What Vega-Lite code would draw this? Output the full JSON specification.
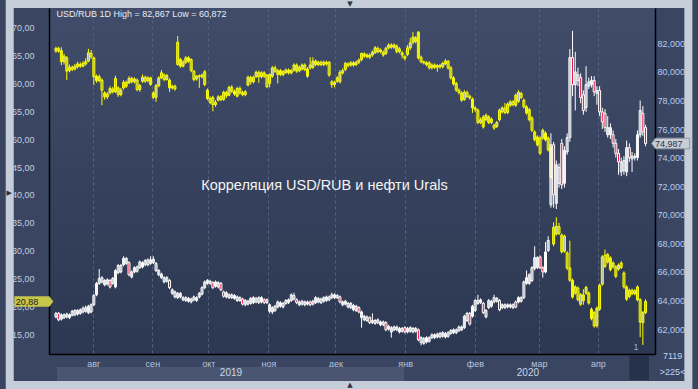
{
"$schema": "https://vega.github.io/schema/vega-lite/v6.json",
"width": 606, "height": 346,
"autosize": {"type": "none"},
"padding": {"left": 49, "top": 8, "right": 43, "bottom": 35},
"background": "#3a4661",
"config": {
  "view": {"stroke": null, "fill": {"gradient": "linear", "x1": 0, "y1": 0, "x2": 0, "y2": 1, "stops": [{"offset": 0, "color": "#404c69"}, {"offset": 1, "color": "#2c3751"}]}},
  "font": "Liberation Sans",
  "axis": {"labelOverlap": false, "labelFlush": false, "labelBound": false, "ticks": false, "domainColor": "#000000", "domainWidth": 1.5,
           "labelFont": "Liberation Sans", "labelFontSize": 9, "gridColor": "#56627d", "gridDash": [3, 3], "gridWidth": 1},
  "axisLeft": {"grid": false, "labelPadding": 15, "labelColor": "#c4cee0"},
  "axisRight": {"grid": true, "labelPadding": 2, "labelColor": "#b5cdf0"},
  "axisBottom": {"grid": true, "labelPadding": 5, "labelColor": "#b4c4dc"}
},
"datasets": {
"oil": [
{"i":0,"o":65.8,"h":66.6,"l":65.5,"c":66.3},{"i":1,"o":66.3,"h":66.6,"l":65.5,"c":65.8},{"i":2,"o":65.9,"h":66.5,"l":63.3,"c":63.9},{"i":3,"o":63.9,"h":65.3,"l":63.4,"c":64.9},{"i":4,"o":64.6,"h":64.9,"l":60.6,"c":62.2},
{"i":5,"o":62.3,"h":63.4,"l":62.0,"c":62.9},{"i":6,"o":62.9,"h":63.2,"l":62.2,"c":62.5},{"i":7,"o":62.6,"h":63.5,"l":62.3,"c":63.1},{"i":8,"o":63.0,"h":63.9,"l":62.7,"c":63.5},{"i":9,"o":63.4,"h":63.8,"l":62.8,"c":63.1},
{"i":10,"o":63.1,"h":64.0,"l":62.9,"c":63.6},{"i":11,"o":63.5,"h":64.5,"l":63.2,"c":63.9},{"i":12,"o":64.0,"h":66.2,"l":63.8,"c":65.5},{"i":13,"o":65.4,"h":66.0,"l":64.4,"c":64.8},{"i":14,"o":64.6,"h":64.8,"l":59.7,"c":61.2},
{"i":15,"o":61.3,"h":61.6,"l":60.1,"c":60.5},{"i":16,"o":60.5,"h":61.6,"l":60.2,"c":61.2},{"i":17,"o":60.6,"h":60.9,"l":56.1,"c":58.8},{"i":18,"o":58.3,"h":58.6,"l":57.1,"c":57.6},{"i":19,"o":57.6,"h":58.5,"l":57.2,"c":58.1},
{"i":20,"o":58.3,"h":59.5,"l":58.0,"c":59.1},{"i":21,"o":59.0,"h":59.4,"l":58.2,"c":58.5},{"i":22,"o":58.5,"h":61.4,"l":58.3,"c":60.9},{"i":23,"o":59.2,"h":59.5,"l":57.6,"c":58.0},{"i":24,"o":58.0,"h":59.2,"l":57.7,"c":58.8},
{"i":25,"o":59.2,"h":60.6,"l":58.9,"c":60.2},{"i":26,"o":60.2,"h":60.5,"l":59.2,"c":59.5},{"i":27,"o":60.1,"h":61.3,"l":59.9,"c":60.9},{"i":28,"o":60.9,"h":61.2,"l":60.0,"c":60.3},{"i":29,"o":60.3,"h":61.1,"l":60.0,"c":60.8},
{"i":30,"o":60.6,"h":60.9,"l":58.6,"c":58.9},{"i":31,"o":58.9,"h":59.9,"l":58.5,"c":59.6},{"i":32,"o":60.4,"h":61.6,"l":60.1,"c":61.1},{"i":33,"o":61.1,"h":61.4,"l":60.1,"c":60.4},{"i":34,"o":60.5,"h":61.3,"l":60.2,"c":61.0},
{"i":35,"o":61.0,"h":61.2,"l":59.6,"c":59.8},{"i":36,"o":58.3,"h":58.6,"l":57.2,"c":57.5},{"i":37,"o":57.5,"h":59.9,"l":56.7,"c":59.6},{"i":38,"o":59.6,"h":61.3,"l":59.3,"c":61.0},{"i":39,"o":61.0,"h":62.4,"l":60.8,"c":61.9},
{"i":40,"o":61.5,"h":61.8,"l":60.4,"c":60.7},{"i":41,"o":60.7,"h":61.7,"l":60.5,"c":61.4},{"i":42,"o":60.6,"h":60.9,"l":58.5,"c":59.2},{"i":43,"o":59.2,"h":59.8,"l":58.9,"c":59.5},{"i":44,"o":59.5,"h":59.8,"l":58.7,"c":59.0},
{"i":45,"o":63.4,"h":68.5,"l":63.2,"c":67.4},{"i":46,"o":64.3,"h":64.6,"l":62.8,"c":63.1},{"i":47,"o":63.1,"h":64.2,"l":62.9,"c":63.8},{"i":48,"o":63.8,"h":64.9,"l":63.5,"c":64.6},{"i":49,"o":64.6,"h":64.9,"l":63.7,"c":64.0},
{"i":50,"o":64.3,"h":64.5,"l":62.0,"c":62.3},{"i":51,"o":62.2,"h":62.4,"l":60.4,"c":60.7},{"i":52,"o":60.8,"h":61.5,"l":60.5,"c":61.3},{"i":53,"o":61.4,"h":61.6,"l":59.2,"c":61.2},{"i":54,"o":61.2,"h":61.8,"l":60.9,"c":61.5},
{"i":55,"o":62.1,"h":62.4,"l":59.5,"c":59.8},{"i":56,"o":58.8,"h":59.1,"l":57.0,"c":57.3},{"i":57,"o":57.3,"h":57.7,"l":56.3,"c":56.6},{"i":58,"o":57.5,"h":57.8,"l":55.0,"c":56.2},{"i":59,"o":56.2,"h":57.0,"l":55.8,"c":56.6},
{"i":60,"o":57.0,"h":57.9,"l":56.8,"c":57.6},{"i":61,"o":57.6,"h":57.9,"l":56.8,"c":57.1},{"i":62,"o":57.1,"h":58.7,"l":56.9,"c":58.4},{"i":63,"o":58.4,"h":58.7,"l":57.4,"c":57.8},{"i":64,"o":57.9,"h":59.6,"l":57.7,"c":59.3},
{"i":65,"o":59.3,"h":59.7,"l":58.3,"c":58.6},{"i":66,"o":58.6,"h":58.9,"l":57.8,"c":58.1},{"i":67,"o":57.7,"h":59.4,"l":57.5,"c":59.1},{"i":68,"o":59.1,"h":59.5,"l":58.0,"c":58.3},{"i":69,"o":58.4,"h":58.7,"l":57.7,"c":58.0},
{"i":70,"o":58.0,"h":58.8,"l":57.7,"c":58.5},{"i":71,"o":59.7,"h":61.4,"l":59.5,"c":61.1},{"i":72,"o":61.1,"h":61.4,"l":59.8,"c":60.3},{"i":73,"o":60.3,"h":61.4,"l":60.0,"c":61.1},{"i":74,"o":61.2,"h":62.3,"l":61.0,"c":62.0},
{"i":75,"o":62.0,"h":62.3,"l":60.1,"c":61.2},{"i":76,"o":61.2,"h":62.2,"l":60.9,"c":61.9},{"i":77,"o":61.9,"h":62.2,"l":61.0,"c":61.3},{"i":78,"o":61.5,"h":61.7,"l":59.2,"c":59.4},{"i":79,"o":60.0,"h":61.8,"l":59.3,"c":61.6},
{"i":80,"o":61.3,"h":63.1,"l":61.0,"c":62.8},{"i":81,"o":62.8,"h":63.2,"l":61.9,"c":62.2},{"i":82,"o":61.6,"h":62.6,"l":60.0,"c":62.3},{"i":83,"o":62.3,"h":62.6,"l":61.3,"c":61.6},{"i":84,"o":61.6,"h":62.4,"l":61.3,"c":62.1},
{"i":85,"o":62.0,"h":62.7,"l":61.7,"c":62.4},{"i":86,"o":62.4,"h":62.7,"l":61.6,"c":61.9},{"i":87,"o":61.9,"h":62.6,"l":61.6,"c":62.3},{"i":88,"o":62.4,"h":63.6,"l":62.1,"c":63.3},{"i":89,"o":63.3,"h":63.6,"l":61.9,"c":62.2},
{"i":90,"o":62.3,"h":63.2,"l":62.0,"c":62.9},{"i":91,"o":62.6,"h":63.6,"l":62.3,"c":63.3},{"i":92,"o":63.3,"h":63.6,"l":62.2,"c":62.5},{"i":93,"o":62.6,"h":62.9,"l":61.0,"c":61.3},{"i":94,"o":62.8,"h":64.7,"l":62.5,"c":63.3},
{"i":95,"o":62.9,"h":64.7,"l":62.6,"c":64.0},{"i":96,"o":64.0,"h":64.3,"l":63.1,"c":63.4},{"i":97,"o":63.4,"h":64.1,"l":63.1,"c":63.8},{"i":98,"o":63.8,"h":64.1,"l":63.1,"c":63.4},{"i":99,"o":63.4,"h":64.1,"l":63.1,"c":63.8},
{"i":100,"o":63.8,"h":64.1,"l":63.2,"c":63.5},{"i":101,"o":63.8,"h":64.0,"l":61.2,"c":61.5},{"i":102,"o":60.3,"h":60.6,"l":59.2,"c":59.8},{"i":103,"o":59.8,"h":60.5,"l":59.3,"c":60.2},{"i":104,"o":60.4,"h":61.3,"l":60.1,"c":61.0},
{"i":105,"o":60.3,"h":62.4,"l":60.0,"c":62.0},{"i":106,"o":61.9,"h":62.7,"l":61.6,"c":62.3},{"i":107,"o":62.5,"h":63.9,"l":62.2,"c":63.6},{"i":108,"o":63.5,"h":63.8,"l":62.9,"c":63.2},{"i":109,"o":63.3,"h":64.0,"l":63.0,"c":63.7},
{"i":110,"o":63.7,"h":64.0,"l":63.0,"c":63.3},{"i":111,"o":63.4,"h":64.1,"l":63.1,"c":63.8},{"i":112,"o":63.8,"h":64.5,"l":63.5,"c":64.2},{"i":113,"o":64.3,"h":65.5,"l":64.0,"c":65.4},{"i":114,"o":65.3,"h":65.6,"l":64.6,"c":64.9},
{"i":115,"o":64.8,"h":65.4,"l":64.5,"c":65.1},{"i":116,"o":65.1,"h":65.4,"l":64.4,"c":64.7},{"i":117,"o":65.1,"h":65.9,"l":64.8,"c":65.6},{"i":118,"o":65.5,"h":66.7,"l":65.3,"c":66.4},{"i":119,"o":66.3,"h":66.6,"l":65.4,"c":65.7},
{"i":120,"o":65.7,"h":66.3,"l":65.4,"c":66.0},{"i":121,"o":65.6,"h":65.9,"l":64.8,"c":65.1},{"i":122,"o":65.4,"h":66.6,"l":65.1,"c":66.3},{"i":123,"o":66.4,"h":67.2,"l":66.1,"c":66.9},{"i":124,"o":66.9,"h":67.2,"l":66.2,"c":66.5},
{"i":125,"o":66.5,"h":67.2,"l":66.2,"c":66.9},{"i":126,"o":66.7,"h":67.0,"l":65.4,"c":65.7},{"i":127,"o":65.7,"h":66.5,"l":65.4,"c":66.2},{"i":128,"o":65.5,"h":65.8,"l":64.5,"c":65.1},{"i":129,"o":64.9,"h":65.0,"l":64.1,"c":64.5},
{"i":130,"o":65.2,"h":66.9,"l":64.9,"c":66.4},{"i":131,"o":66.4,"h":68.2,"l":66.0,"c":67.3},{"i":132,"o":67.4,"h":69.2,"l":67.0,"c":68.3},{"i":133,"o":68.2,"h":68.5,"l":67.2,"c":67.5},{"i":134,"o":69.2,"h":69.4,"l":64.3,"c":64.6},
{"i":135,"o":64.7,"h":65.0,"l":63.6,"c":63.9},{"i":136,"o":63.9,"h":64.1,"l":63.4,"c":63.7},{"i":137,"o":63.7,"h":64.0,"l":63.1,"c":63.4},{"i":138,"o":63.7,"h":64.0,"l":62.5,"c":62.8},{"i":139,"o":62.8,"h":63.6,"l":62.5,"c":63.3},
{"i":140,"o":63.3,"h":63.6,"l":62.6,"c":62.9},{"i":141,"o":62.9,"h":63.5,"l":62.1,"c":63.2},{"i":142,"o":63.2,"h":63.5,"l":62.6,"c":63.0},{"i":143,"o":63.0,"h":63.9,"l":62.7,"c":63.6},{"i":144,"o":63.5,"h":64.4,"l":63.3,"c":64.0},
{"i":145,"o":64.0,"h":64.2,"l":62.5,"c":62.8},{"i":146,"o":62.8,"h":63.1,"l":60.7,"c":61.0},{"i":147,"o":61.0,"h":61.3,"l":59.6,"c":59.9},{"i":148,"o":60.0,"h":60.3,"l":58.5,"c":58.8},{"i":149,"o":58.8,"h":59.1,"l":58.0,"c":58.4},
{"i":150,"o":58.3,"h":58.6,"l":56.7,"c":57.0},{"i":151,"o":57.1,"h":58.8,"l":56.9,"c":58.4},{"i":152,"o":58.4,"h":58.7,"l":57.4,"c":57.7},{"i":153,"o":57.7,"h":58.0,"l":57.1,"c":57.4},{"i":154,"o":57.2,"h":57.5,"l":54.7,"c":55.6},
{"i":155,"o":55.6,"h":55.9,"l":54.9,"c":55.3},{"i":156,"o":55.2,"h":55.5,"l":52.7,"c":53.0},{"i":157,"o":53.0,"h":53.9,"l":52.7,"c":53.5},{"i":158,"o":54.0,"h":54.3,"l":51.9,"c":52.2},{"i":159,"o":53.5,"h":54.6,"l":53.2,"c":54.3},
{"i":160,"o":54.0,"h":54.3,"l":52.7,"c":53.0},{"i":161,"o":53.0,"h":53.9,"l":52.7,"c":53.6},{"i":162,"o":52.5,"h":52.8,"l":51.7,"c":52.0},{"i":163,"o":52.3,"h":53.3,"l":52.0,"c":53.0},{"i":164,"o":53.5,"h":55.5,"l":53.2,"c":55.2},
{"i":165,"o":54.9,"h":55.9,"l":54.6,"c":55.6},{"i":166,"o":55.6,"h":56.5,"l":54.5,"c":54.8},{"i":167,"o":54.8,"h":56.6,"l":54.5,"c":56.3},{"i":168,"o":56.1,"h":57.0,"l":55.8,"c":56.7},{"i":169,"o":56.7,"h":57.0,"l":55.9,"c":56.2},
{"i":170,"o":56.1,"h":58.2,"l":55.8,"c":57.9},{"i":171,"o":56.8,"h":58.8,"l":56.5,"c":58.4},{"i":172,"o":58.2,"h":58.5,"l":57.2,"c":57.5},{"i":173,"o":57.0,"h":57.3,"l":55.5,"c":55.8},{"i":174,"o":55.8,"h":56.1,"l":54.4,"c":54.7},
{"i":175,"o":55.3,"h":55.6,"l":53.2,"c":53.5},{"i":176,"o":53.8,"h":54.1,"l":51.3,"c":51.6},{"i":177,"o":51.3,"h":51.6,"l":49.6,"c":49.9},{"i":178,"o":50.4,"h":50.7,"l":48.7,"c":49.0},{"i":179,"o":50.2,"h":50.5,"l":47.2,"c":47.5},
{"i":180,"o":50.2,"h":51.9,"l":49.9,"c":51.6},{"i":181,"o":51.1,"h":51.4,"l":49.6,"c":49.9},{"i":182,"o":50.2,"h":50.5,"l":47.8,"c":48.1},{"i":183,"o":48.4,"h":48.7,"l":42.9,"c":43.2},{"i":184,"o":31.2,"h":35.1,"l":30.8,"c":34.2},
{"i":185,"o":33.0,"h":36.0,"l":32.7,"c":34.4},{"i":186,"o":34.3,"h":35.0,"l":32.8,"c":33.1},{"i":187,"o":32.8,"h":33.1,"l":29.5,"c":29.8},{"i":188,"o":29.9,"h":32.9,"l":29.6,"c":32.6},{"i":189,"o":29.6,"h":29.9,"l":26.5,"c":26.9},
{"i":190,"o":26.9,"h":31.8,"l":24.4,"c":24.7},{"i":191,"o":24.7,"h":25.0,"l":21.4,"c":21.7},{"i":192,"o":22.4,"h":23.8,"l":22.1,"c":23.5},{"i":193,"o":23.3,"h":23.6,"l":20.9,"c":21.2},{"i":194,"o":20.4,"h":22.4,"l":20.1,"c":22.1},
{"i":195,"o":22.1,"h":23.1,"l":20.3,"c":21.0},{"i":196,"o":22.4,"h":23.7,"l":22.1,"c":23.4},{"i":197,"o":22.4,"h":22.7,"l":20.3,"c":20.6},{"i":198,"o":19.5,"h":19.8,"l":17.5,"c":17.8},{"i":199,"o":18.9,"h":19.2,"l":16.2,"c":16.5},
{"i":200,"o":16.5,"h":20.0,"l":16.2,"c":19.7},{"i":201,"o":19.5,"h":24.1,"l":19.2,"c":23.8},{"i":202,"o":24.0,"h":29.2,"l":23.7,"c":28.9},{"i":203,"o":29.2,"h":30.2,"l":26.9,"c":27.2},{"i":204,"o":28.0,"h":29.6,"l":27.7,"c":29.3},
{"i":205,"o":28.7,"h":29.0,"l":26.3,"c":26.6},{"i":206,"o":27.1,"h":28.1,"l":26.8,"c":27.8},{"i":207,"o":27.1,"h":27.4,"l":25.1,"c":25.4},{"i":208,"o":26.7,"h":27.7,"l":26.4,"c":27.4},{"i":209,"o":27.8,"h":28.1,"l":26.7,"c":27.0},
{"i":210,"o":26.0,"h":26.3,"l":23.2,"c":23.5},{"i":211,"o":23.5,"h":23.8,"l":21.0,"c":21.3},{"i":212,"o":21.8,"h":23.2,"l":21.5,"c":22.9},{"i":213,"o":22.9,"h":23.2,"l":22.0,"c":22.3},{"i":214,"o":22.3,"h":23.1,"l":22.0,"c":22.8},
{"i":215,"o":21.2,"h":23.8,"l":20.9,"c":23.5},{"i":216,"o":21.2,"h":21.5,"l":14.5,"c":17.2},{"i":217,"o":17.1,"h":19.2,"l":13.1,"c":18.9},{"i":218,"o":18.9,"h":21.3,"l":18.6,"c":20.88}
],
"usd": [
{"i":0,"o":62.85,"h":63.2,"l":62.75,"c":63.1},{"i":1,"o":63.1,"h":63.2,"l":62.55,"c":62.65},{"i":2,"o":62.7,"h":63.1,"l":62.6,"c":63.0},{"i":3,"o":62.8,"h":63.1,"l":62.7,"c":63.0},{"i":4,"o":62.85,"h":63.15,"l":62.75,"c":63.05},
{"i":5,"o":62.8,"h":63.1,"l":62.7,"c":63.0},{"i":6,"o":62.95,"h":63.35,"l":62.9,"c":63.25},{"i":7,"o":63.0,"h":63.4,"l":62.9,"c":63.3},{"i":8,"o":63.05,"h":63.4,"l":62.95,"c":63.3},{"i":9,"o":63.1,"h":63.45,"l":63.0,"c":63.35},
{"i":10,"o":63.2,"h":63.6,"l":63.1,"c":63.45},{"i":11,"o":63.25,"h":63.65,"l":63.15,"c":63.5},{"i":12,"o":63.15,"h":63.7,"l":63.05,"c":63.6},{"i":13,"o":63.2,"h":63.8,"l":63.1,"c":63.7},{"i":14,"o":63.7,"h":64.45,"l":63.6,"c":64.35},
{"i":15,"o":64.4,"h":65.3,"l":64.3,"c":65.2},{"i":16,"o":65.2,"h":66.2,"l":65.1,"c":65.55},{"i":17,"o":65.3,"h":65.7,"l":65.2,"c":65.6},{"i":18,"o":65.1,"h":65.5,"l":65.0,"c":65.4},{"i":19,"o":65.15,"h":65.55,"l":65.05,"c":65.45},
{"i":20,"o":65.4,"h":65.5,"l":64.85,"c":64.95},{"i":21,"o":65.2,"h":65.65,"l":65.1,"c":65.55},{"i":22,"o":64.95,"h":66.2,"l":64.85,"c":66.1},{"i":23,"o":65.95,"h":66.55,"l":65.85,"c":66.45},{"i":24,"o":66.0,"h":66.55,"l":65.9,"c":66.45},
{"i":25,"o":66.5,"h":67.1,"l":66.4,"c":66.95},{"i":26,"o":66.6,"h":67.05,"l":66.5,"c":66.95},{"i":27,"o":66.65,"h":66.75,"l":65.7,"c":65.8},{"i":28,"o":65.65,"h":66.1,"l":65.55,"c":66.0},{"i":29,"o":66.0,"h":66.4,"l":65.9,"c":66.3},
{"i":30,"o":66.05,"h":66.45,"l":65.95,"c":66.35},{"i":31,"o":66.3,"h":66.8,"l":66.2,"c":66.7},{"i":32,"o":66.35,"h":66.75,"l":66.25,"c":66.65},{"i":33,"o":66.5,"h":66.9,"l":66.4,"c":66.8},{"i":34,"o":66.5,"h":66.95,"l":66.4,"c":66.85},
{"i":35,"o":66.6,"h":67.1,"l":66.5,"c":66.85},{"i":36,"o":66.65,"h":67.1,"l":66.55,"c":66.9},{"i":37,"o":66.1,"h":66.7,"l":66.0,"c":66.6},{"i":38,"o":65.8,"h":66.2,"l":65.7,"c":66.1},{"i":39,"o":65.6,"h":65.95,"l":65.5,"c":65.85},
{"i":40,"o":65.3,"h":65.7,"l":65.2,"c":65.6},{"i":41,"o":65.35,"h":65.7,"l":65.25,"c":65.6},{"i":42,"o":65.4,"h":65.5,"l":64.8,"c":64.9},{"i":43,"o":64.5,"h":64.85,"l":64.4,"c":64.75},{"i":44,"o":64.25,"h":64.7,"l":64.15,"c":64.6},
{"i":45,"o":64.2,"h":64.6,"l":64.1,"c":64.5},{"i":46,"o":64.25,"h":64.6,"l":64.15,"c":64.5},{"i":47,"o":64.05,"h":64.3,"l":63.95,"c":64.2},{"i":48,"o":64.0,"h":64.3,"l":63.9,"c":64.2},{"i":49,"o":63.95,"h":64.25,"l":63.85,"c":64.15},
{"i":50,"o":63.9,"h":64.2,"l":63.8,"c":64.1},{"i":51,"o":64.05,"h":64.35,"l":63.95,"c":64.25},{"i":52,"o":64.0,"h":64.3,"l":63.9,"c":64.2},{"i":53,"o":64.25,"h":64.6,"l":64.15,"c":64.5},{"i":54,"o":64.45,"h":65.0,"l":64.35,"c":64.9},
{"i":55,"o":64.9,"h":65.4,"l":64.8,"c":65.3},{"i":56,"o":65.2,"h":65.5,"l":65.1,"c":65.4},{"i":57,"o":65.2,"h":65.45,"l":65.1,"c":65.35},{"i":58,"o":65.25,"h":65.35,"l":64.8,"c":64.9},{"i":59,"o":65.0,"h":65.4,"l":64.9,"c":65.3},
{"i":60,"o":64.95,"h":65.35,"l":64.85,"c":65.25},{"i":61,"o":65.2,"h":65.3,"l":64.65,"c":64.75},{"i":62,"o":64.6,"h":64.7,"l":64.2,"c":64.3},{"i":63,"o":64.25,"h":64.65,"l":64.15,"c":64.55},{"i":64,"o":64.2,"h":64.5,"l":64.1,"c":64.4},
{"i":65,"o":64.2,"h":64.5,"l":64.1,"c":64.4},{"i":66,"o":64.15,"h":64.45,"l":64.05,"c":64.35},{"i":67,"o":64.0,"h":64.35,"l":63.9,"c":64.25},{"i":68,"o":64.0,"h":64.3,"l":63.9,"c":64.2},{"i":69,"o":64.1,"h":64.2,"l":63.65,"c":63.75},
{"i":70,"o":63.7,"h":64.1,"l":63.6,"c":64.0},{"i":71,"o":63.75,"h":64.05,"l":63.65,"c":63.95},{"i":72,"o":63.8,"h":64.25,"l":63.7,"c":64.15},{"i":73,"o":63.85,"h":64.3,"l":63.75,"c":64.2},{"i":74,"o":63.9,"h":64.25,"l":63.8,"c":64.15},
{"i":75,"o":63.85,"h":64.3,"l":63.75,"c":64.2},{"i":76,"o":63.9,"h":64.3,"l":63.8,"c":64.2},{"i":77,"o":64.05,"h":64.15,"l":63.75,"c":63.85},{"i":78,"o":63.85,"h":64.15,"l":63.75,"c":64.05},{"i":79,"o":63.25,"h":63.8,"l":63.1,"c":63.7},
{"i":80,"o":63.2,"h":63.6,"l":63.05,"c":63.5},{"i":81,"o":63.3,"h":63.7,"l":63.2,"c":63.6},{"i":82,"o":63.55,"h":64.0,"l":63.45,"c":63.9},{"i":83,"o":63.6,"h":63.95,"l":63.5,"c":63.85},{"i":84,"o":63.55,"h":63.9,"l":63.45,"c":63.8},
{"i":85,"o":63.8,"h":64.1,"l":63.7,"c":64.0},{"i":86,"o":63.85,"h":64.15,"l":63.75,"c":64.05},{"i":87,"o":64.0,"h":64.5,"l":63.9,"c":64.4},{"i":88,"o":64.1,"h":64.55,"l":64.0,"c":64.35},{"i":89,"o":64.05,"h":64.15,"l":63.75,"c":63.85},
{"i":90,"o":63.7,"h":64.0,"l":63.6,"c":63.9},{"i":91,"o":63.75,"h":64.05,"l":63.65,"c":63.95},{"i":92,"o":63.7,"h":64.0,"l":63.6,"c":63.9},{"i":93,"o":63.75,"h":64.0,"l":63.65,"c":63.9},{"i":94,"o":63.9,"h":64.0,"l":63.6,"c":63.7},
{"i":95,"o":63.75,"h":64.05,"l":63.65,"c":63.95},{"i":96,"o":63.85,"h":64.3,"l":63.75,"c":64.2},{"i":97,"o":63.9,"h":64.25,"l":63.8,"c":64.15},{"i":98,"o":63.85,"h":64.2,"l":63.75,"c":64.1},{"i":99,"o":63.95,"h":64.3,"l":63.85,"c":64.2},
{"i":100,"o":64.0,"h":64.35,"l":63.9,"c":64.25},{"i":101,"o":64.05,"h":64.35,"l":63.95,"c":64.25},{"i":102,"o":64.2,"h":64.55,"l":64.1,"c":64.4},{"i":103,"o":64.2,"h":64.5,"l":64.1,"c":64.4},{"i":104,"o":64.2,"h":64.45,"l":64.1,"c":64.35},
{"i":105,"o":64.25,"h":64.35,"l":63.8,"c":63.9},{"i":106,"o":63.7,"h":64.0,"l":63.6,"c":63.9},{"i":107,"o":63.75,"h":64.05,"l":63.65,"c":63.95},{"i":108,"o":63.55,"h":63.9,"l":63.45,"c":63.8},{"i":109,"o":63.5,"h":63.9,"l":63.4,"c":63.8},
{"i":110,"o":63.35,"h":63.75,"l":63.25,"c":63.65},{"i":111,"o":63.3,"h":63.7,"l":63.2,"c":63.6},{"i":112,"o":63.5,"h":63.6,"l":63.1,"c":63.2},{"i":113,"o":62.8,"h":63.3,"l":62.1,"c":63.2},{"i":114,"o":62.65,"h":63.0,"l":62.55,"c":62.9},
{"i":115,"o":62.6,"h":62.95,"l":62.5,"c":62.85},{"i":116,"o":62.8,"h":62.9,"l":62.35,"c":62.45},{"i":117,"o":62.45,"h":63.1,"l":62.35,"c":62.6},{"i":118,"o":62.4,"h":62.7,"l":62.3,"c":62.6},{"i":119,"o":62.45,"h":62.75,"l":62.35,"c":62.65},
{"i":120,"o":62.3,"h":62.6,"l":62.2,"c":62.5},{"i":121,"o":62.3,"h":62.6,"l":62.2,"c":62.5},{"i":122,"o":62.45,"h":62.55,"l":61.85,"c":61.95},{"i":123,"o":62.0,"h":62.3,"l":61.9,"c":62.2},{"i":124,"o":61.8,"h":62.2,"l":61.4,"c":62.1},
{"i":125,"o":61.95,"h":62.25,"l":61.85,"c":62.15},{"i":126,"o":61.95,"h":62.25,"l":61.85,"c":62.15},{"i":127,"o":61.8,"h":62.15,"l":61.7,"c":62.05},{"i":128,"o":61.85,"h":62.15,"l":61.75,"c":62.05},{"i":129,"o":62.1,"h":62.2,"l":61.7,"c":61.8},
{"i":130,"o":61.8,"h":62.15,"l":61.7,"c":62.05},{"i":131,"o":61.85,"h":62.2,"l":61.75,"c":62.1},{"i":132,"o":61.8,"h":62.15,"l":61.7,"c":62.05},{"i":133,"o":61.85,"h":62.15,"l":61.75,"c":62.05},{"i":134,"o":61.95,"h":62.05,"l":61.15,"c":61.25},
{"i":135,"o":61.05,"h":61.5,"l":60.87,"c":61.4},{"i":136,"o":61.0,"h":61.45,"l":60.9,"c":61.35},{"i":137,"o":61.1,"h":61.5,"l":61.0,"c":61.4},{"i":138,"o":61.15,"h":61.5,"l":61.05,"c":61.4},{"i":139,"o":61.4,"h":61.7,"l":61.3,"c":61.6},
{"i":140,"o":61.4,"h":61.7,"l":61.3,"c":61.6},{"i":141,"o":61.45,"h":61.75,"l":61.35,"c":61.65},{"i":142,"o":61.45,"h":61.8,"l":61.35,"c":61.7},{"i":143,"o":61.5,"h":61.85,"l":61.4,"c":61.75},{"i":144,"o":61.45,"h":61.8,"l":61.35,"c":61.7},
{"i":145,"o":61.5,"h":61.85,"l":61.4,"c":61.75},{"i":146,"o":61.7,"h":62.0,"l":61.6,"c":61.9},{"i":147,"o":61.75,"h":62.05,"l":61.65,"c":61.95},{"i":148,"o":61.75,"h":62.05,"l":61.65,"c":61.95},{"i":149,"o":61.9,"h":62.25,"l":61.8,"c":62.15},
{"i":150,"o":61.95,"h":62.25,"l":61.85,"c":62.15},{"i":151,"o":62.1,"h":63.0,"l":62.0,"c":62.9},{"i":152,"o":62.6,"h":63.2,"l":62.5,"c":63.1},{"i":153,"o":63.1,"h":63.2,"l":62.25,"c":62.35},{"i":154,"o":62.9,"h":63.7,"l":62.8,"c":63.6},
{"i":155,"o":63.3,"h":64.1,"l":63.2,"c":64.0},{"i":156,"o":63.8,"h":64.4,"l":63.7,"c":64.0},{"i":157,"o":63.85,"h":64.15,"l":63.75,"c":64.05},{"i":158,"o":63.8,"h":63.9,"l":63.05,"c":63.15},{"i":159,"o":62.85,"h":63.4,"l":62.75,"c":63.3},
{"i":160,"o":63.5,"h":64.1,"l":63.4,"c":64.0},{"i":161,"o":63.6,"h":64.05,"l":63.5,"c":63.95},{"i":162,"o":63.9,"h":64.4,"l":63.8,"c":64.2},{"i":163,"o":63.95,"h":64.25,"l":63.85,"c":64.15},{"i":164,"o":64.0,"h":64.1,"l":63.25,"c":63.35},
{"i":165,"o":63.5,"h":63.8,"l":63.4,"c":63.7},{"i":166,"o":63.5,"h":63.8,"l":63.4,"c":63.7},{"i":167,"o":63.55,"h":63.8,"l":63.45,"c":63.7},{"i":168,"o":63.55,"h":63.8,"l":63.45,"c":63.7},{"i":169,"o":63.5,"h":63.8,"l":63.4,"c":63.7},
{"i":170,"o":63.9,"h":64.0,"l":63.45,"c":63.55},{"i":171,"o":63.9,"h":64.3,"l":63.8,"c":64.2},{"i":172,"o":63.95,"h":64.3,"l":63.85,"c":64.2},{"i":173,"o":64.2,"h":65.4,"l":64.1,"c":65.3},{"i":174,"o":65.2,"h":66.1,"l":65.1,"c":65.6},
{"i":175,"o":65.2,"h":65.9,"l":65.1,"c":65.8},{"i":176,"o":65.4,"h":66.4,"l":65.3,"c":66.3},{"i":177,"o":66.25,"h":67.8,"l":66.1,"c":67.0},{"i":178,"o":66.3,"h":67.1,"l":66.2,"c":67.0},{"i":179,"o":67.05,"h":67.15,"l":66.2,"c":66.3},
{"i":180,"o":66.3,"h":66.4,"l":65.6,"c":66.0},{"i":181,"o":66.0,"h":68.1,"l":65.9,"c":67.4},{"i":182,"o":67.5,"h":68.5,"l":67.4,"c":68.2},{"i":183,"o":70.7,"h":75.7,"l":70.5,"c":74.9},{"i":184,"o":74.9,"h":75.1,"l":70.5,"c":71.4},
{"i":185,"o":70.8,"h":73.8,"l":70.4,"c":73.5},{"i":186,"o":72.2,"h":73.6,"l":71.9,"c":73.3},{"i":187,"o":75.0,"h":75.3,"l":71.8,"c":72.1},{"i":188,"o":72.2,"h":74.8,"l":71.9,"c":74.5},{"i":189,"o":74.4,"h":75.7,"l":74.2,"c":75.4},
{"i":190,"o":75.4,"h":81.6,"l":75.1,"c":81.0},{"i":191,"o":81.0,"h":82.87,"l":78.3,"c":79.1},{"i":192,"o":79.1,"h":81.4,"l":77.3,"c":80.0},{"i":193,"o":79.4,"h":80.3,"l":79.0,"c":79.8},{"i":194,"o":79.6,"h":79.9,"l":77.8,"c":78.2},
{"i":195,"o":78.4,"h":78.7,"l":77.0,"c":77.3},{"i":196,"o":77.5,"h":80.4,"l":77.2,"c":79.1},{"i":197,"o":79.0,"h":79.6,"l":78.8,"c":79.3},{"i":198,"o":79.1,"h":79.7,"l":78.9,"c":79.4},{"i":199,"o":79.4,"h":79.7,"l":78.3,"c":78.6},
{"i":200,"o":78.5,"h":79.0,"l":77.7,"c":78.7},{"i":201,"o":78.7,"h":79.0,"l":76.9,"c":77.2},{"i":202,"o":77.2,"h":77.5,"l":76.0,"c":76.5},{"i":203,"o":77.1,"h":77.4,"l":75.8,"c":76.1},{"i":204,"o":75.6,"h":76.9,"l":75.4,"c":76.1},
{"i":205,"o":75.6,"h":76.4,"l":75.3,"c":76.1},{"i":206,"o":75.6,"h":75.9,"l":74.7,"c":75.0},{"i":207,"o":75.0,"h":75.3,"l":74.0,"c":74.3},{"i":208,"o":74.3,"h":74.6,"l":72.8,"c":73.7},{"i":209,"o":73.0,"h":74.0,"l":72.7,"c":73.7},
{"i":210,"o":73.1,"h":74.1,"l":72.8,"c":73.8},{"i":211,"o":73.0,"h":75.2,"l":72.7,"c":74.7},{"i":212,"o":74.7,"h":75.0,"l":73.7,"c":74.0},{"i":213,"o":73.9,"h":74.4,"l":73.0,"c":74.1},{"i":214,"o":74.0,"h":74.3,"l":73.8,"c":74.1},
{"i":215,"o":74.0,"h":75.9,"l":73.8,"c":75.6},{"i":216,"o":75.6,"h":78.0,"l":75.4,"c":77.3},{"i":217,"o":77.1,"h":77.6,"l":75.5,"c":75.8},{"i":218,"o":76.1,"h":76.3,"l":74.8,"c":74.987}
]
},
"layer": [
{
 "layer": [
  {"data": {"name": "oil"},
   "mark": {"type": "rule", "color": "#ffff00", "strokeWidth": 1},
   "encoding": {
     "x": {"field": "i", "type": "quantitative", "scale": {"domain": [-0.727, 219.636], "nice": false, "zero": false},
           "axis": {"title": null, "tickCount": 40, "values": [13.82, 35.64, 56.36, 78.55, 103.27, 129.09, 154.91, 178.55, 200.36],
                    "labelExpr": "datum.value < 20 ? 'авг' : datum.value < 40 ? 'сен' : datum.value < 60 ? 'окт' : datum.value < 90 ? 'ноя' : datum.value < 110 ? 'дек' : datum.value < 140 ? 'янв' : datum.value < 160 ? 'фев' : datum.value < 190 ? 'мар' : 'апр'"}},
     "y": {"field": "l", "type": "quantitative", "scale": {"domain": [11.471, 73.534], "nice": false, "zero": false},
           "axis": {"title": null, "orient": "left", "tickCount": 40, "values": [15, 20, 25, 30, 35, 40, 45, 50, 55, 60, 65, 70],
                    "labelExpr": "replace(format(datum.value, '.2f'), '.', ',')"}},
     "y2": {"field": "h"}}},
  {"data": {"values": [{}]},
   "mark": {"type": "rect", "fillOpacity": 0, "stroke": "#c5cdd9", "strokeWidth": 8},
   "encoding": {"x": {"datum": -17.09}, "x2": {"datum": 233.82}, "y": {"datum": 74.25}, "y2": {"datum": 5.91}}},
  {"data": {"values": [{}]},
   "mark": {"type": "rect", "fill": "#4a5671"},
   "encoding": {"x": {"datum": 0.36}, "x2": {"datum": 128.73}, "y": {"datum": 9.14}, "y2": {"datum": 6.63}}},
  {"data": {"values": [{}]},
   "mark": {"type": "rect", "fill": "#28314a"},
   "encoding": {"x": {"datum": 212.0}, "x2": {"datum": 219.27}, "y": {"datum": 11.29}, "y2": {"datum": 6.81}}},
  {"data": {"name": "oil"},
   "mark": {"type": "bar", "width": 2, "stroke": "#ffff00", "strokeWidth": 1},
   "encoding": {
     "x": {"field": "i", "type": "quantitative"},
     "y": {"field": "o", "type": "quantitative"},
     "y2": {"field": "c"},
     "fill": {"condition": {"test": "datum.c > datum.o", "value": "#aab4c8"}, "value": "transparent"}}},
  {"data": {"values": [{}]},
   "mark": {"type": "text", "text": "USD/RUB 1D High = 82,867 Low = 60,872", "align": "left", "baseline": "middle", "fontSize": 9, "color": "#e6ecf4", "font": "Liberation Sans"},
   "encoding": {"x": {"datum": 0.18}, "y": {"datum": 72.37}}},
  {"data": {"values": [{}]},
   "mark": {"type": "text", "text": "Корреляция USD/RUB и нефти Urals", "align": "center", "baseline": "middle", "fontSize": 14.5, "color": "#f4f4f4", "font": "Liberation Sans"},
   "encoding": {"x": {"datum": 99.27}, "y": {"datum": 41.6}}},
  {"data": {"values": [{}]},
   "mark": {"type": "text", "text": "2019", "align": "center", "baseline": "middle", "fontSize": 10, "color": "#c8d6ec"},
   "encoding": {"x": {"datum": 64.7}, "y": {"datum": 8.06}}},
  {"data": {"values": [{}]},
   "mark": {"type": "text", "text": "2020", "align": "center", "baseline": "middle", "fontSize": 10, "color": "#c8d6ec"},
   "encoding": {"x": {"datum": 174.5}, "y": {"datum": 8.06}}},
  {"data": {"values": [{}]},
   "mark": {"type": "text", "text": "1", "align": "center", "baseline": "middle", "fontSize": 9, "color": "#8db0e0"},
   "encoding": {"x": {"datum": 214.5}, "y": {"datum": 12.73}}},
  {"data": {"values": [{}]},
   "mark": {"type": "text", "text": "7119", "align": "center", "baseline": "middle", "fontSize": 9, "color": "#c0d4f0"},
   "encoding": {"x": {"datum": 228.0}, "y": {"datum": 11.2}}},
  {"data": {"values": [{}]},
   "mark": {"type": "text", "text": ">225<", "align": "center", "baseline": "middle", "fontSize": 9, "color": "#c0d4f0"},
   "encoding": {"x": {"datum": 228.0}, "y": {"datum": 8.24}}},
  {"data": {"values": [{}]},
   "mark": {"type": "text", "text": "▼", "align": "center", "baseline": "middle", "fontSize": 7, "color": "#2a3040", "font": "DejaVu Sans"},
   "encoding": {"x": {"datum": 108.73}, "y": {"datum": 74.34}}},
  {"data": {"values": [{}]},
   "mark": {"type": "text", "text": "▲", "align": "center", "baseline": "middle", "fontSize": 7, "color": "#2a3040", "font": "DejaVu Sans"},
   "encoding": {"x": {"datum": 108.73}, "y": {"datum": 5.91}}},
  {"data": {"values": [{}]},
   "mark": {"type": "text", "text": "▶", "align": "center", "baseline": "middle", "fontSize": 7, "color": "#2a3040", "font": "DejaVu Sans"},
   "encoding": {"x": {"datum": -17.27}, "y": {"datum": 40.35}}},
  {"data": {"values": [{}]},
   "mark": {"type": "point", "shape": "M -1 -0.27 L 0.79 -0.27 L 1 0 L 0.79 0.27 L -1 0.27 Z", "size": 1521, "filled": true, "fill": "#c6c64a", "opacity": 1, "strokeWidth": 0},
   "encoding": {"x": {"datum": -8.18}, "y": {"datum": 20.88}}},
  {"data": {"values": [{}]},
   "mark": {"type": "text", "text": "20,88", "align": "left", "baseline": "middle", "fontSize": 9, "color": "#1e2010"},
   "encoding": {"x": {"datum": -14.9}, "y": {"datum": 20.88}}}
 ]
},
{
 "layer": [
  {"data": {"name": "usd"},
   "mark": {"type": "rule", "color": "#ffffff", "strokeWidth": 1},
   "encoding": {
     "x": {"field": "i", "type": "quantitative"},
     "y": {"field": "l", "type": "quantitative", "scale": {"domain": [60.258, 84.47], "nice": false, "zero": false},
           "axis": {"title": null, "orient": "right", "tickCount": 40, "values": [62, 64, 66, 68, 70, 72, 74, 76, 78, 80, 82],
                    "labelExpr": "replace(format(datum.value, '.3f'), '.', ',')"}},
     "y2": {"field": "h"}}},
  {"data": {"name": "usd"},
   "mark": {"type": "bar", "width": 2, "stroke": "#ffffff", "strokeWidth": 1},
   "encoding": {
     "x": {"field": "i", "type": "quantitative"},
     "y": {"field": "o", "type": "quantitative"},
     "y2": {"field": "c"},
     "fill": {"condition": {"test": "datum.c < datum.o", "value": "#e8103c"}, "value": "transparent"}}},
  {"data": {"values": [{}]},
   "mark": {"type": "point", "shape": "M -1 0 L -0.79 -0.28 L 1 -0.28 L 1 0.28 L -0.79 0.28 Z", "size": 1444, "filled": true, "fill": "#c8ccd4", "stroke": "#8d96a6", "strokeWidth": 1, "opacity": 1},
   "encoding": {"x": {"datum": 227.27}, "y": {"datum": 74.987}}},
  {"data": {"values": [{}]},
   "mark": {"type": "text", "text": "74,987", "align": "left", "baseline": "middle", "fontSize": 9, "color": "#2c3446"},
   "encoding": {"x": {"datum": 221.45}, "y": {"datum": 74.987}}}
 ]
}
],
"resolve": {"scale": {"y": "independent"}, "axis": {"y": "independent"}}
}
